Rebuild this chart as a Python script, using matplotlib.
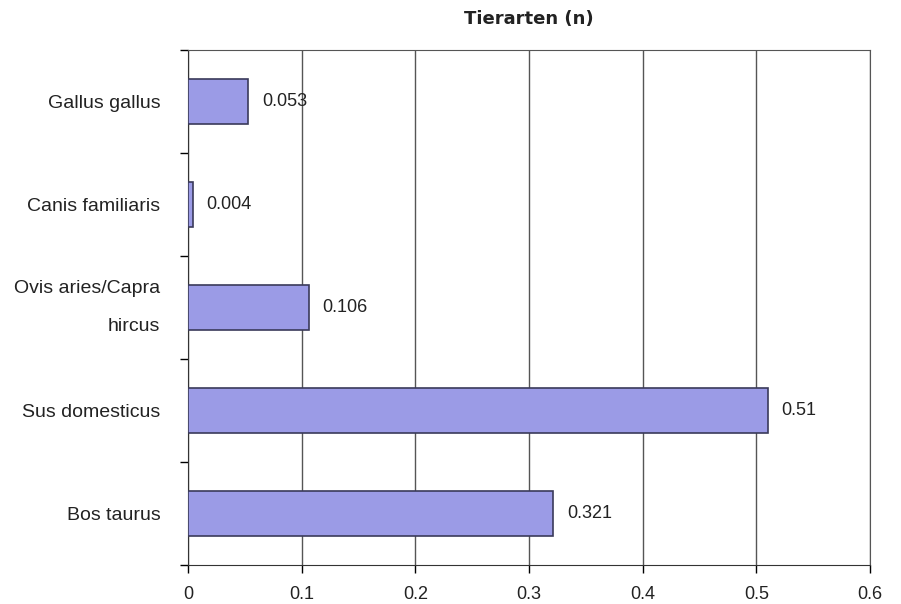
import matplotlib
matplotlib.use('Agg')
import matplotlib.pyplot as plt
import numpy as np

plt.rcParams['font.family'] = ['Liberation Sans', 'DejaVu Sans']

species = ['Bos taurus', 'Sus domesticus', 'Ovis aries/Capra\nhircus',
           'Canis familiaris', 'Gallus gallus']
shares = [0.321, 0.51, 0.106, 0.004, 0.053]
x_ticks = [0, 0.1, 0.2, 0.3, 0.4, 0.5, 0.6]

fig = plt.figure(figsize=(9.01, 6.04), dpi=100)
ax = fig.add_axes([0.2087, 0.0646, 0.7569, 0.8526])

pos = np.arange(len(species))
bars = ax.barh(pos, shares, height=0.44, color='#9b9be6',
               edgecolor='#3a3a5a', linewidth=1.2, zorder=3)

for bar, val in zip(bars, shares):
    ax.annotate(f'{val:g}', (bar.get_width(), bar.get_y() + bar.get_height() / 2),
                xytext=(10, 0), textcoords='offset points',
                ha='left', va='center', fontsize=13, color='#222222')

ax.set_xlim(0, 0.6)
ax.set_ylim(-0.5, len(species) - 0.5)
ax.set_xticks(x_ticks)
ax.set_xticklabels([f'{t:g}' for t in x_ticks], fontsize=13, color='#222222')
ax.tick_params(axis='x', direction='out', length=6, width=1, pad=9)

# category labels in the middle, tick marks between categories
ax.set_yticks(pos)
ax.set_yticklabels(species, fontsize=14, color='#222222', linespacing=2.6)
for lbl in ax.get_yticklabels():
    if '\n' in lbl.get_text():
        lbl.set_va('center')
ax.tick_params(axis='y', which='major', length=0, pad=20)
ax.set_yticks(np.arange(-0.5, len(species)), minor=True)
ax.tick_params(axis='y', which='minor', direction='out', length=6, width=1)

ax.grid(axis='x', color='#555555', linewidth=1, zorder=0)
for side in ['top', 'right']:
    ax.spines[side].set_color('#555555')
for side in ['left', 'bottom']:
    ax.spines[side].set_color('#333333')

ax.set_title('Tierarten (n)', fontsize=13, fontweight='bold', pad=19,
             color='#222222', family='DejaVu Sans')

fig.savefig('out.png', dpi=100)
